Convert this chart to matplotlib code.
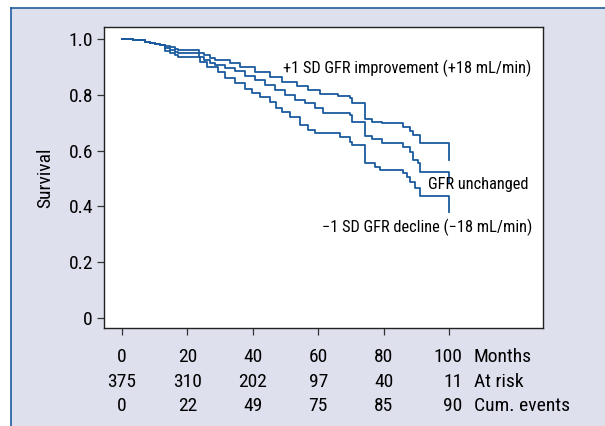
import matplotlib
matplotlib.use("Agg")
import matplotlib.pyplot as plt
import matplotlib.transforms as mtransforms
from matplotlib.patches import Rectangle
from matplotlib.lines import Line2D
from matplotlib import font_manager

# condensed sans if there is one, else Roboto
names = {f.name for f in font_manager.fontManager.ttflist}
fams = [f for f in ['Roboto Condensed', 'Liberation Sans Narrow', 'Roboto'] if f in names]
plt.rcParams['font.family'] = fams + ['DejaVu Sans']
narrow = fams and fams[0] != 'Roboto'

# Kaplan-Meier style curves (months, survival)
improve_t = [0, 3.4, 5.5, 7.0, 8.6, 10.1, 11.6, 13.1, 14.7, 16.2, 17.1, 23.5, 25.1, 26.9,
             28.4, 33.0, 36.1, 40.7, 45.3, 48.9, 53.5, 56.9, 60.6, 66.1, 69.7, 70.3,
             74.3, 76.5, 79.5, 85.9, 88.1, 89.0, 91.1, 100]
improve_s = [1.0, 0.997, 0.995, 0.991, 0.986, 0.982, 0.978, 0.975, 0.970, 0.964, 0.961,
             0.950, 0.943, 0.932, 0.925, 0.914, 0.900, 0.882, 0.864, 0.846, 0.832, 0.817,
             0.803, 0.796, 0.789, 0.771, 0.713, 0.703, 0.699, 0.685, 0.670, 0.656, 0.627,
             0.566]

unchanged_t = [0, 3.4, 5.5, 7.0, 8.6, 10.1, 11.6, 13.1, 14.7, 16.2, 17.1, 23.5, 25.1, 26.9,
               28.4, 31.5, 34.6, 37.6, 40.7, 43.7, 46.8, 49.8, 52.9, 56.0, 59.0, 61.5,
               69.7, 70.3, 74.3, 76.5, 79.5, 85.9, 88.1, 89.0, 90.5, 91.1, 100]
unchanged_s = [1.0, 0.997, 0.995, 0.991, 0.986, 0.982, 0.978, 0.968, 0.961, 0.953, 0.950,
               0.935, 0.925, 0.914, 0.907, 0.896, 0.885, 0.867, 0.853, 0.835, 0.817, 0.799,
               0.781, 0.771, 0.753, 0.735, 0.728, 0.703, 0.652, 0.642, 0.627, 0.613, 0.595,
               0.566, 0.556, 0.523, 0.484]

decline_t = [0, 3.4, 5.5, 7.0, 8.6, 10.1, 11.6, 13.1, 14.7, 16.2, 17.1, 23.9, 26.0, 29.4,
             31.5, 34.6, 37.6, 39.8, 42.2, 45.3, 47.1, 48.9, 51.4, 54.4, 56.9, 59.0, 66.7,
             69.7, 70.3, 74.3, 77.4, 78.9, 85.9, 87.2, 88.1, 89.6, 91.1, 100]
decline_s = [1.0, 0.997, 0.995, 0.991, 0.986, 0.982, 0.978, 0.957, 0.950, 0.943, 0.935,
             0.918, 0.900, 0.882, 0.860, 0.842, 0.821, 0.806, 0.792, 0.774, 0.753, 0.738,
             0.720, 0.692, 0.674, 0.663, 0.649, 0.631, 0.620, 0.556, 0.541, 0.530, 0.520,
             0.505, 0.487, 0.466, 0.437, 0.380]

# number-at-risk table under the x axis
months = [0, 20, 40, 60, 80, 100]
at_risk = ['375', '310', '202', '97', '40', '11']
cum_events = ['0', '22', '49', '75', '85', '90']
row_names = ['Months', 'At risk', 'Cum. events']

yticks = [0, 0.2, 0.4, 0.6, 0.8, 1.0]
ytick_labels = ['0', '0.2', '0.4', '0.6', '0.8', '1.0']

line_col = '#1a5a9e'
panel_col = '#dee0ee'
big = 14 if narrow else 12.5
small = 11.8 if narrow else 10.5

fig = plt.figure(figsize=(6.05, 4.26), dpi=100)
fig.patch.set_facecolor('white')

# shaded panel with blue top/left rule
W, H = 605.0, 426.0
fig.patches.append(Rectangle((11 / W, 0), 1 - 11 / W, 1 - 8 / H, transform=fig.transFigure,
                             facecolor=panel_col, edgecolor='none', zorder=-10))
fig.lines.append(Line2D([11 / W, 1], [1 - 8 / H, 1 - 8 / H], transform=fig.transFigure,
                        color='#1f5c9c', lw=1.2, zorder=-5))
fig.lines.append(Line2D([11 / W, 11 / W], [0, 1 - 8 / H], transform=fig.transFigure,
                        color='#1f5c9c', lw=1.2, zorder=-5))

ax = fig.add_axes([104 / W, 98 / H, 439 / W, 301 / H])
ax.set_zorder(5)
ax.set_facecolor('white')

ax.plot(improve_t, improve_s, drawstyle='steps-post', color=line_col, lw=1.3)
ax.plot(unchanged_t, unchanged_s, drawstyle='steps-post', color=line_col, lw=1.3)
ax.plot(decline_t, decline_s, drawstyle='steps-post', color=line_col, lw=1.3)

ax.set_xlim(-5.5, 128.7)
ax.set_ylim(-0.036, 1.043)

ax.set_yticks(yticks)
ax.set_yticklabels(ytick_labels, fontsize=big)
ax.set_xticks(months)
ax.set_xticklabels([])
ax.tick_params(direction='out', length=5, width=0.9, color='#333333', pad=3)
for sp in ax.spines.values():
    sp.set_linewidth(1.0)
    sp.set_color('#222222')

ax.set_ylabel('Survival', fontsize=big, labelpad=10)

# curve labels
ax.text(49.2, 0.896, '+1 SD GFR improvement (+18 mL/min)', fontsize=small, va='center')
ax.text(93.6, 0.477, 'GFR unchanged', fontsize=small, va='center')
ax.text(61.2, 0.323, '\u22121 SD GFR decline (\u221218 mL/min)', fontsize=small, va='center')

# table rows below axis
trans = mtransforms.blended_transform_factory(ax.transData, ax.transAxes)
rows = [[str(m) for m in months], at_risk, cum_events]
row_y = [-0.095, -0.178, -0.258]
for vals, yy, name in zip(rows, row_y, row_names):
    for m, v in zip(months, vals):
        if m == months[-1]:
            ax.text(104.0, yy, v, transform=trans, ha='right', va='center', fontsize=big)
        else:
            ax.text(m, yy, v, transform=trans, ha='center', va='center', fontsize=big)
    ax.text(107.6, yy, name, transform=trans, ha='left', va='center', fontsize=big)

fig.savefig('out.png', dpi=100, facecolor=fig.get_facecolor())
